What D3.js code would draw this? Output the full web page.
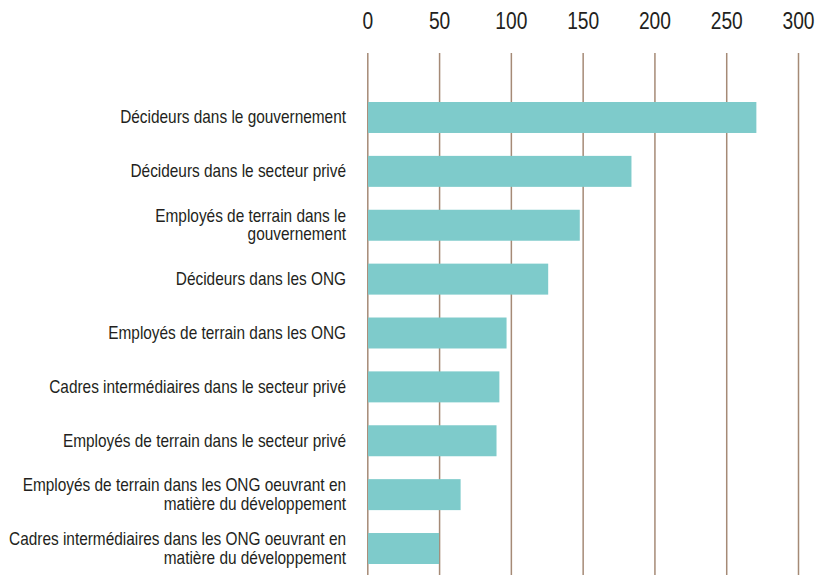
<!DOCTYPE html>
<html>
<head>
<meta charset="utf-8">
<script src="https://cdn.jsdelivr.net/npm/d3@7"></script>
<style>
  body { margin: 0; background: #fff; }
  svg { display: block; font-family: "Liberation Sans", Arial, sans-serif; }
  .axis text { font-size: 24px; fill: #231f20; }
  .axis .domain { display: none; }
  .axis line { stroke: #a58a76; stroke-width: 1.5; }
  .label { font-size: 17.5px; fill: #231f20; }
  .bar { fill: #7ecbcb; }
</style>
</head>
<body>
<svg id="chart" width="829" height="575"></svg>
<script>
// categories, top to bottom (line breaks as in the original)
const categories = [
  'Décideurs dans le gouvernement',
  'Décideurs dans le secteur privé',
  'Employés de terrain dans le\ngouvernement',
  'Décideurs dans les ONG',
  'Employés de terrain dans les ONG',
  'Cadres intermédiaires dans le secteur privé',
  'Employés de terrain dans le secteur privé',
  'Employés de terrain dans les ONG oeuvrant en\nmatière du développement',
  'Cadres intermédiaires dans les ONG oeuvrant en\nmatière du développement'
]
const values = [271, 184, 148, 126, 97, 92, 90, 65, 50]
const xTicks = [0, 50, 100, 150, 200, 250, 300]

const svg = d3.select('#chart')
const gridTop = 53, gridBottom = 575
// no condensed face installed, so squeeze the text horizontally
const narrowTick = 0.8
const narrowLabel = 0.88

const x = d3.scaleLinear().domain([0, 300]).range([367.3, 798])
const y = d3.scaleBand().domain(d3.range(categories.length))
  .range([102, 564]).paddingInner(0.425).paddingOuter(0)

svg.append('g')
  .attr('class', 'axis')
  .attr('transform', `translate(0,${gridTop})`)
  .call(d3.axisTop(x).tickValues(xTicks).tickFormat(d3.format('d'))
    .tickSizeInner(-(gridBottom - gridTop)).tickSizeOuter(0).tickPadding(23.7))
  .selectAll('text')
  .attr('transform', `scale(${narrowTick},1)`)

svg.selectAll('.bar').data(values).enter().append('rect')
  .attr('class', 'bar')
  .attr('x', x(0) + 0.75)
  .attr('y', (d, i) => y(i))
  .attr('width', d => x(d) - x(0) - 0.75)
  .attr('height', y.bandwidth())

const lineH = 18.3
svg.selectAll('.label').data(categories).enter().append('text')
  .attr('class', 'label')
  .attr('text-anchor', 'end')
  .attr('transform', (d, i) => {
    const n = d.split('\n').length
    const cy = y(i) + y.bandwidth() / 2 - (n - 1) * lineH / 2 + 6
    return `translate(346,${cy}) scale(${narrowLabel},1)`
  })
  .selectAll('tspan').data(d => d.split('\n')).enter().append('tspan')
  .attr('x', 0)
  .attr('y', (l, j) => j * lineH)
  .text(l => l)
</script>
</body>
</html>
